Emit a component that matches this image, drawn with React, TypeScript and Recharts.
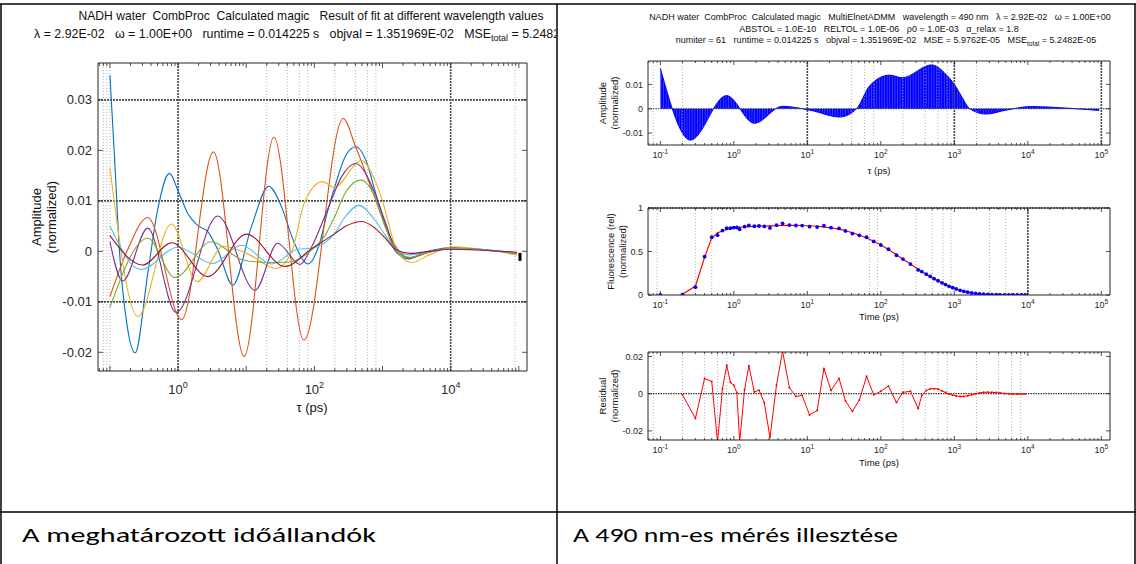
import React from 'react';
import { ComposedChart, Line, Area, XAxis, YAxis, ReferenceLine } from 'recharts';

const FONT = '"Liberation Sans", Arial, Helvetica, sans-serif';
const AX = '#262626';

type P = [number, number];

// ---------- Left panel: amplitudes vs log10(tau / ps) ----------
const ampBlue: P[] = [
  [-1.0, 0.0349], [-0.93, 0.018], [-0.86, 0.0], [-0.75, -0.0145], [-0.63, -0.0201], [-0.445, -0.0044],
  [-0.3, 0.0082], [-0.127, 0.01545], [0.005, 0.0118], [0.142, 0.0075], [0.289, 0.0051], [0.436, 0.0039],
  [0.583, 0.0003], [0.803, -0.0067], [1.077, 0.0049], [1.33, 0.0129], [1.518, 0.0088], [1.69, 0.0022],
  [1.91, -0.0025], [2.06, 0.0009], [2.2, 0.0082], [2.3, 0.0128], [2.45, 0.0187], [2.605, 0.0207],
  [2.791, 0.0167], [2.888, 0.012], [3.035, 0.0055], [3.18, 0.0002], [3.38, -0.0015], [3.62, -0.0002],
  [4.0, 0.0007], [4.35, 0.0005], [4.97, -0.0003],
];
const ampOrange: P[] = [
  [-1.0, -0.009], [-0.75, 0.0], [-0.445, 0.0067], [0.054, -0.0135], [0.519, 0.0197], [0.97, -0.0208],
  [1.406, 0.0226], [1.846, -0.0176], [2.424, 0.0263], [2.6, 0.0209], [2.863, 0.0115], [3.108, 0.003],
  [3.38, -0.0013], [3.65, -0.0002], [4.0, 0.0007], [4.4, 0.0004], [4.97, -0.0004],
];
const ampYellow: P[] = [
  [-1.0, 0.0166], [-0.59, -0.0129], [-0.1, 0.0054], [0.28, -0.006], [0.66, 0.001], [1.05, -0.0007],
  [1.44, -0.0034], [1.67, 0.0], [1.85, 0.0095], [2.12, 0.0138], [2.29, 0.0127], [2.69, 0.018],
  [2.888, 0.0141], [3.0, 0.01], [3.1, 0.005], [3.21, 0.0], [3.43, -0.0022], [3.7, -0.0006],
  [4.05, 0.0009], [4.5, 0.0003], [4.97, -0.0007],
];
const ampPurple: P[] = [
  [-1.0, 0.0019], [-0.813, -0.0059], [-0.445, 0.0046], [-0.029, -0.0121], [0.583, 0.007], [1.13, -0.0077],
  [1.46, 0.0016], [1.79, -0.0026], [1.96, 0.0009], [2.2, 0.0085], [2.4, 0.0148], [2.605, 0.0174],
  [2.888, 0.0115], [3.035, 0.006], [3.2, 0.0003], [3.4, -0.0013], [3.7, -0.0001], [4.0, 0.0006], [4.97, -0.0004],
];
const ampGreen: P[] = [
  [-1.0, -0.0111], [-0.445, 0.0026], [-0.044, -0.0052], [0.485, 0.0019], [0.95, -0.0017], [1.3, -0.0022],
  [1.65, -0.0021], [1.96, 0.0003], [2.15, 0.003], [2.3, 0.0069], [2.45, 0.0115], [2.683, 0.0141],
  [2.888, 0.0108], [3.035, 0.005], [3.2, 0.0002], [3.4, -0.0012], [3.7, -0.0001], [4.0, 0.0006], [4.97, -0.0004],
];
const ampCyan: P[] = [
  [-1.0, 0.005], [-0.543, -0.0036], [-0.005, 0.0008], [0.509, -0.0024], [0.93, 0.0012], [1.371, -0.0025],
  [1.76, 0.0004], [1.96, 0.0006], [2.3, 0.0036], [2.45, 0.0068], [2.654, 0.0091], [2.888, 0.0062],
  [3.035, 0.0033], [3.2, 0.0002], [3.4, -0.0007], [3.7, 0.0], [4.0, 0.0005], [4.97, -0.0003],
];
const ampDarkRed: P[] = [
  [-1.0, 0.0031], [-0.519, -0.0027], [-0.093, 0.0017], [0.436, -0.005], [1.004, 0.0034], [1.567, -0.003],
  [1.96, 0.0005], [2.3, 0.0035], [2.45, 0.0049], [2.7, 0.0059], [2.888, 0.0046], [3.035, 0.0027],
  [3.2, 0.0003], [3.4, -0.0004], [3.7, 0.0], [4.0, 0.0004], [4.97, -0.0002],
];
const endMarker: P[] = [[5.017, -0.0011]];

const leftSeries = [
  { key: 'blue', color: '#0072BD', pts: ampBlue },
  { key: 'orange', color: '#D95319', pts: ampOrange },
  { key: 'yellow', color: '#EDB120', pts: ampYellow },
  { key: 'purple', color: '#7E2F8E', pts: ampPurple },
  { key: 'green', color: '#77AC30', pts: ampGreen },
  { key: 'cyan', color: '#4DBEEE', pts: ampCyan },
  { key: 'darkred', color: '#A2142F', pts: ampDarkRed },
];

// ---------- Right panel: 490 nm fit ----------
const fluoTimePs = [
  0.1, 0.2, 0.3, 0.4, 0.5, 0.6, 0.7, 0.8, 0.9, 1.0, 1.1, 1.2, 1.4, 1.6, 1.9, 2.2, 2.6, 3.1, 3.8, 4.6,
  5.7, 7.0, 8.5, 10.7, 13.6, 16.8, 21, 27, 33, 41, 51, 64, 80, 100, 127, 163, 200, 253, 322, 360,
  415, 470, 530, 600, 680, 760, 850, 950, 1060, 1200, 1350, 1520, 1720, 1950, 2200, 2500, 2850, 3250,
  3700, 4200, 4800, 5500, 6300, 7200, 8200, 9200,
];
const fluoMeasured = [
  0.0, 0.007, 0.09, 0.44, 0.665, 0.688, 0.74, 0.768, 0.768, 0.775, 0.776, 0.755, 0.785, 0.8, 0.79, 0.793,
  0.788, 0.771, 0.803, 0.823, 0.804, 0.799, 0.798, 0.785, 0.781, 0.797, 0.774, 0.765, 0.736, 0.706, 0.686,
  0.664, 0.616, 0.575, 0.527, 0.457, 0.413, 0.356, 0.288, 0.269, 0.239, 0.213, 0.188, 0.164, 0.14, 0.12,
  0.1, 0.084, 0.069, 0.054, 0.041, 0.032, 0.023, 0.017, 0.012, 0.009, 0.006, 0.004, 0.003, 0.001, 0.001,
  0.0, 0.0, 0.0, 0.0, 0.0,
];
const fluoFit = [
  null, 0.008, 0.103, 0.432, 0.658, 0.713, 0.737, 0.753, 0.762, 0.77, 0.776, 0.779, 0.783, 0.786, 0.789,
  0.791, 0.793, 0.795, 0.798, 0.8, 0.801, 0.8, 0.799, 0.796, 0.79, 0.783, 0.772, 0.757, 0.74, 0.716, 0.689,
  0.655, 0.617, 0.574, 0.523, 0.462, 0.412, 0.355, 0.296, 0.27, 0.237, 0.21, 0.185, 0.161, 0.138, 0.119,
  0.101, 0.085, 0.07, 0.055, 0.043, 0.033, 0.024, 0.017, 0.012, 0.008, 0.005, 0.003, 0.002, 0.001, 0.0005,
  0.0, 0.0, 0.0, 0.0, 0.0,
];
const fluoResidual = [
  null, -0.0006, -0.0133, 0.0082, 0.0065, -0.026, 0.0026, 0.0153, 0.006, 0.0045, 0.0004, -0.026, 0.0022,
  0.015, 0.0009, 0.0019, -0.0049, -0.0236, 0.0045, 0.0228, 0.0032, -0.0015, -0.0009, -0.0114, -0.009,
  0.0135, 0.0017, 0.0082, -0.0039, -0.0095, -0.0034, 0.0093, -0.0006, 0.0013, 0.0041, -0.0047, 0.0007,
  0.0013, -0.008, -0.001, 0.0017, 0.0026, 0.0027, 0.0025, 0.0015, 0.0006, -0.0003, -0.0008, -0.0012,
  -0.0015, -0.0015, -0.0011, -0.0006, 0.0, 0.0004, 0.0007, 0.0008, 0.0007, 0.0006, 0.0004, 0.0001,
  -0.0001, -0.0002, -0.0002, -0.0002, -0.0002,
];

// ---------- Axes / grid settings ----------
const leftYTicks = [-0.02, -0.01, 0, 0.01, 0.02, 0.03];
const leftXLabelDecades = [0, 2, 4];
const rightXLabelDecades = [-1, 0, 1, 2, 3, 4, 5];
const ampYTicks = [-0.01, 0, 0.01];
const fluoYTicks = [0, 0.5, 1];
const resYTicks = [-0.02, 0, 0.02];

const leftMajorGridDecades = [0, 4];
const leftMajorGridY = [-0.01, 0.01, 0.03];
const leftMinorGridPs = [0.08, 0.09, 0.1, 20, 40, 60, 80, 200, 400, 600, 800, 88000];
const ampMajorGridDecades = [1, 3, 5];
const ampMinorGridPs = [0.08, 0.2, 40, 60, 80, 200, 400, 600, 800, 2000];
const fluoMajorGridDecades = [4];
const fluoMinorGridPs = [0.09, 0.3, 0.5, 70, 90, 300, 500, 700, 900, 3000, 5000];
const resMinorGridPs = [0.08, 0.2, 0.4, 0.6, 0.8, 200, 400, 600, 800, 2000, 4000, 6000, 8000];

const LEFT_X: [number, number] = [-1.175, 5.12];
const LEFT_Y: [number, number] = [-0.0237, 0.0373];
const RIGHT_X: [number, number] = [-1.168, 5.118];
const AMP_Y: [number, number] = [-0.0149, 0.0196];
const FLUO_Y: [number, number] = [0, 1];
const RES_Y: [number, number] = [-0.0249, 0.0224];

const logTicks = (lo: number, hi: number) => {
  const out: number[] = [];
  for (let n = Math.floor(lo) - 1; n <= Math.ceil(hi); n++) {
    for (let k = 1; k <= 9; k++) {
      const v = n + Math.log10(k);
      if (v >= lo && v <= hi) out.push(v);
    }
  }
  return out;
};

const rows = (pts: P[]) => pts.map(([t, a]) => ({ t, a }));
const tableRows = (ys: (number | null)[]) => fluoTimePs.map((ps, i) => ({ t: Math.log10(ps), a: ys[i] }));

const majorGrid = { stroke: '#4a4a4a', strokeWidth: 1.6, strokeDasharray: '2 1' };
const minorGrid = { stroke: '#a0a0a0', strokeWidth: 0.8, strokeDasharray: '1 2' };
const zeroGrid = { stroke: '#333333', strokeWidth: 1.1, strokeDasharray: '1.5 1' };

type TickCfg = {
  majorLen: number; minorLen: number; fs: number; supFs: number; labelDy: number; supRise: number;
  labels: number[]; yLen: number; yGap: number; yFs: number;
};

const mkXTick = (side: 'bottom' | 'top', c: TickCfg) => (p: any) => {
  const v = p.payload.value;
  const e = Math.round(v);
  const major = Math.abs(v - e) < 1e-6;
  const len = major ? c.majorLen : c.minorLen;
  const s = side === 'bottom' ? -1 : 1;
  return (
    <g>
      <line x1={p.x} x2={p.x} y1={p.y} y2={p.y + s * len} stroke={AX} strokeWidth={0.8} />
      {side === 'bottom' && major && c.labels.includes(e) ? (
        <text x={p.x} y={p.y + c.labelDy} textAnchor="middle" fontFamily={FONT} fontSize={c.fs} fill={AX}>
          10<tspan dy={-c.supRise} fontSize={c.supFs}>{e}</tspan>
        </text>
      ) : null}
    </g>
  );
};

const mkYTick = (side: 'left' | 'right', c: TickCfg) => (p: any) => {
  const s = side === 'left' ? 1 : -1;
  return (
    <g>
      <line x1={p.x} x2={p.x + s * c.yLen} y1={p.y} y2={p.y} stroke={AX} strokeWidth={0.8} />
      {side === 'left' ? (
        <text x={p.x - c.yGap} y={p.y} dy="0.35em" textAnchor="end" fontFamily={FONT} fontSize={c.yFs} fill={AX}>
          {String(p.payload.value)}
        </text>
      ) : null}
    </g>
  );
};

function frame(
  xDomain: [number, number], yDomain: [number, number], yTicks: number[], c: TickCfg,
  sizes: { left: number; right: number; top: number; bottom: number },
) {
  const xt = logTicks(xDomain[0], xDomain[1]);
  const axisLine = { stroke: AX, strokeWidth: 1 };
  return [
    <XAxis key="xb" xAxisId="b" orientation="bottom" type="number" dataKey="t" domain={xDomain} allowDataOverflow
      ticks={xt} interval={0} tickSize={0} tickMargin={0} tick={mkXTick('bottom', c)} axisLine={axisLine} height={sizes.bottom} />,
    <XAxis key="xt" xAxisId="t" orientation="top" type="number" dataKey="t" domain={xDomain} allowDataOverflow
      ticks={xt} interval={0} tickSize={0} tickMargin={0} tick={mkXTick('top', c)} axisLine={axisLine} height={sizes.top} />,
    <YAxis key="yl" yAxisId="l" orientation="left" type="number" domain={yDomain} allowDataOverflow
      ticks={yTicks} interval={0} tickSize={0} tickMargin={0} tick={mkYTick('left', c)} axisLine={axisLine} width={sizes.left} />,
    <YAxis key="yr" yAxisId="r" orientation="right" type="number" domain={yDomain} allowDataOverflow
      ticks={yTicks} interval={0} tickSize={0} tickMargin={0} tick={mkYTick('right', c)} axisLine={axisLine} width={sizes.right} />,
  ];
}

const vLines = (vals: number[], style: any, tag: string) =>
  vals.map((v, i) => <ReferenceLine key={tag + i} xAxisId="b" yAxisId="l" x={v} {...style} />);
const hLines = (vals: number[], style: any, tag: string) =>
  vals.map((v, i) => <ReferenceLine key={tag + i} xAxisId="b" yAxisId="l" y={v} {...style} />);
const psToLog = (a: number[]) => a.map((v) => Math.log10(v));

const leftCfg: TickCfg = { majorLen: 5, minorLen: 3, fs: 13, supFs: 9, labelDy: 23, supRise: 6, labels: leftXLabelDecades, yLen: 5, yGap: 6, yFs: 13 };
const rightCfg: TickCfg = { majorLen: 4, minorLen: 2, fs: 9, supFs: 6.5, labelDy: 13, supRise: 4, labels: rightXLabelDecades, yLen: 4, yGap: 5, yFs: 9 };

function LeftChart() {
  return (
    <ComposedChart width={557} height={430} margin={{ top: 53, right: 20, bottom: 0, left: 0 }}>
      {frame(LEFT_X, LEFT_Y, leftYTicks, leftCfg, { left: 98, right: 10, top: 10, bottom: 59 })}
      {vLines(psToLog(leftMinorGridPs), minorGrid, 'lm')}
      {vLines(leftMajorGridDecades, majorGrid, 'lv')}
      {hLines(leftMajorGridY, majorGrid, 'lh')}
      {leftSeries.map((s) => (
        <Line key={s.key} xAxisId="b" yAxisId="l" data={rows(s.pts)} dataKey="a" type="monotone" stroke={s.color}
          strokeWidth={1.1} dot={false} activeDot={false} isAnimationActive={false} />
      ))}
      <Line xAxisId="b" yAxisId="l" data={rows(endMarker)} dataKey="a" stroke="none" activeDot={false} isAnimationActive={false}
        dot={(p: any) => <rect key="m" x={p.cx - 1.5} y={p.cy - 4} width={3} height={8} fill="#000" />} />
    </ComposedChart>
  );
}

function AmpChart() {
  return (
    <ComposedChart width={576} height={130} margin={{ top: 6, right: 16, bottom: 0, left: 0 }}>
      <defs>
        <pattern id="stripes" width="2.6" height="6" patternUnits="userSpaceOnUse">
          <rect width="2.6" height="6" fill="#0000ff" />
          <rect x="2.0" width="0.6" height="6" fill="#5a5aff" />
        </pattern>
      </defs>
      {frame(RIGHT_X, AMP_Y, ampYTicks, rightCfg, { left: 88, right: 10, top: 5, bottom: 35 })}
      {vLines(psToLog(ampMinorGridPs), minorGrid, 'am')}
      <Area xAxisId="b" yAxisId="l" data={rows(ampYellow)} dataKey="a" type="monotone" baseValue={0}
        stroke="#0000ff" strokeWidth={1} fill="url(#stripes)" fillOpacity={1} dot={false} activeDot={false} isAnimationActive={false} />
      {vLines(ampMajorGridDecades, majorGrid, 'av')}
      {hLines([0], zeroGrid, 'ah')}
    </ComposedChart>
  );
}

function FluoChart() {
  return (
    <ComposedChart width={576} height={135} margin={{ top: 8, right: 16, bottom: 0, left: 0 }}>
      {frame(RIGHT_X, FLUO_Y, fluoYTicks, rightCfg, { left: 88, right: 10, top: 5, bottom: 35 })}
      {vLines(psToLog(fluoMinorGridPs), minorGrid, 'fm')}
      {vLines(fluoMajorGridDecades, majorGrid, 'fv')}
      {hLines([1], majorGrid, 'fh')}
      <Line xAxisId="b" yAxisId="l" data={tableRows(fluoFit)} dataKey="a" type="linear" stroke="#ff0000" strokeWidth={1.2}
        dot={{ r: 0.9, fill: '#ff0000', stroke: 'none' }} activeDot={false} isAnimationActive={false} />
      <Line xAxisId="b" yAxisId="l" data={tableRows(fluoMeasured)} dataKey="a" stroke="none"
        dot={{ r: 1.9, fill: '#0000ff', stroke: 'none' }} activeDot={false} isAnimationActive={false} />
    </ComposedChart>
  );
}

function ResChart() {
  return (
    <ComposedChart width={576} height={135} margin={{ top: 7, right: 16, bottom: 0, left: 0 }}>
      {frame(RIGHT_X, RES_Y, resYTicks, rightCfg, { left: 88, right: 10, top: 5, bottom: 35 })}
      {vLines(psToLog(resMinorGridPs), minorGrid, 'rm')}
      {hLines([0], zeroGrid, 'rh')}
      <Line xAxisId="b" yAxisId="l" data={tableRows(fluoResidual)} dataKey="a" type="linear" stroke="#ff0000" strokeWidth={1}
        dot={{ r: 1, fill: '#ff0000', stroke: 'none' }} activeDot={false} isAnimationActive={false} />
    </ComposedChart>
  );
}

const T = { fontFamily: FONT, fill: '#111' } as const;
const pre = { whiteSpace: 'pre' } as any;
const CAPTION_FONT = 'Carlito, Calibri, "Open Sans", Lato, sans-serif';

function Overlay() {
  return (
    <svg width={1136} height={564} style={{ position: 'absolute', left: 0, top: 0, pointerEvents: 'none' }}>
      <defs>
        <clipPath id="leftcell"><rect x={2} y={0} width={554} height={510} /></clipPath>
      </defs>
      {/* left titles */}
      <g clipPath="url(#leftcell)">
        <text x={311} y={19.5} textAnchor="middle" fontSize={12.4} {...T} style={pre} textLength={465} lengthAdjust="spacingAndGlyphs">
          {'NADH water  CombProc  Calculated magic   Result of fit at different wavelength values'}
        </text>
        <text x={34} y={37.5} fontSize={12.4} {...T} style={pre}>
          {'λ = 2.92E-02   ω = 1.00E+00   runtime = 0.014225 s   objval = 1.351969E-02   MSE'}
          <tspan dy={3} fontSize={9}>total</tspan>
          <tspan dy={-3}>{' = 5.2482E-05'}</tspan>
        </text>
      </g>
      {/* left axis labels */}
      <text transform="translate(41,217) rotate(-90)" textAnchor="middle" fontSize={13} {...T}>Amplitude</text>
      <text transform="translate(56,217) rotate(-90)" textAnchor="middle" fontSize={13} {...T}>(normalized)</text>
      <text x={312} y={412} textAnchor="middle" fontSize={13} {...T}>τ (ps)</text>

      {/* right titles */}
      <text x={880} y={20} textAnchor="middle" fontSize={9} {...T} style={pre}>
        {'NADH water  CombProc  Calculated magic   MultiElnetADMM   wavelength = 490 nm   λ = 2.92E-02   ω = 1.00E+00'}
      </text>
      <text x={879} y={31.5} textAnchor="middle" fontSize={9} {...T} style={pre}>
        {'ABSTOL = 1.0E-10   RELTOL = 1.0E-06   ρ0 = 1.0E-03   α_relax = 1.8'}
      </text>
      <text x={886} y={43} textAnchor="middle" fontSize={9} {...T} style={pre}>
        {'numiter = 61   runtime = 0.014225 s   objval = 1.351969E-02   MSE = 5.9762E-05   MSE'}
        <tspan dy={2.5} fontSize={6.5}>total</tspan>
        <tspan dy={-2.5}>{' = 5.2482E-05'}</tspan>
      </text>

      {/* right axis labels */}
      <text transform="translate(606,103) rotate(-90)" textAnchor="middle" fontSize={9.5} {...T}>Amplitude</text>
      <text transform="translate(618,103) rotate(-90)" textAnchor="middle" fontSize={9.5} {...T}>(normalized)</text>
      <text x={879} y={174} textAnchor="middle" fontSize={9.5} {...T}>τ (ps)</text>

      <text transform="translate(614,251.5) rotate(-90)" textAnchor="middle" fontSize={9.5} {...T}>Fluorescence (rel)</text>
      <text transform="translate(626,251.5) rotate(-90)" textAnchor="middle" fontSize={9.5} {...T}>(normalized)</text>
      <text x={879} y={320} textAnchor="middle" fontSize={9.5} {...T}>Time (ps)</text>

      <text transform="translate(606,396) rotate(-90)" textAnchor="middle" fontSize={9.5} {...T}>Residual</text>
      <text transform="translate(618,396) rotate(-90)" textAnchor="middle" fontSize={9.5} {...T}>(normalized)</text>
      <text x={879} y={466} textAnchor="middle" fontSize={9.5} {...T}>Time (ps)</text>

      {/* table borders */}
      <line x1={0} x2={1136} y1={4} y2={4} stroke="#000" strokeWidth={1.5} />
      <line x1={1} x2={1} y1={4} y2={564} stroke="#000" strokeWidth={1.5} />
      <line x1={557} x2={557} y1={4} y2={564} stroke="#000" strokeWidth={1.5} />
      <line x1={1135} x2={1135} y1={4} y2={564} stroke="#000" strokeWidth={1.5} />
      <line x1={0} x2={1136} y1={512} y2={512} stroke="#000" strokeWidth={1.5} />

      {/* captions */}
      <text x={22} y={542} fontSize={21} fontFamily={CAPTION_FONT} fill="#000" textLength={354} lengthAdjust="spacingAndGlyphs">
        A meghatározott időállandók
      </text>
      <text x={573} y={542} fontSize={21} fontFamily={CAPTION_FONT} fill="#000" textLength={325} lengthAdjust="spacingAndGlyphs">
        A 490 nm-es mérés illesztése
      </text>
    </svg>
  );
}

export default function App() {
  return (
    <div style={{ position: 'fixed', left: 0, top: 0, width: 1136, height: 564, background: '#fff', overflow: 'hidden' }}>
      <div style={{ position: 'absolute', left: 0, top: 0 }}><LeftChart /></div>
      <div style={{ position: 'absolute', left: 560, top: 50 }}><AmpChart /></div>
      <div style={{ position: 'absolute', left: 560, top: 195 }}><FluoChart /></div>
      <div style={{ position: 'absolute', left: 560, top: 340 }}><ResChart /></div>
      <Overlay />
    </div>
  );
}
